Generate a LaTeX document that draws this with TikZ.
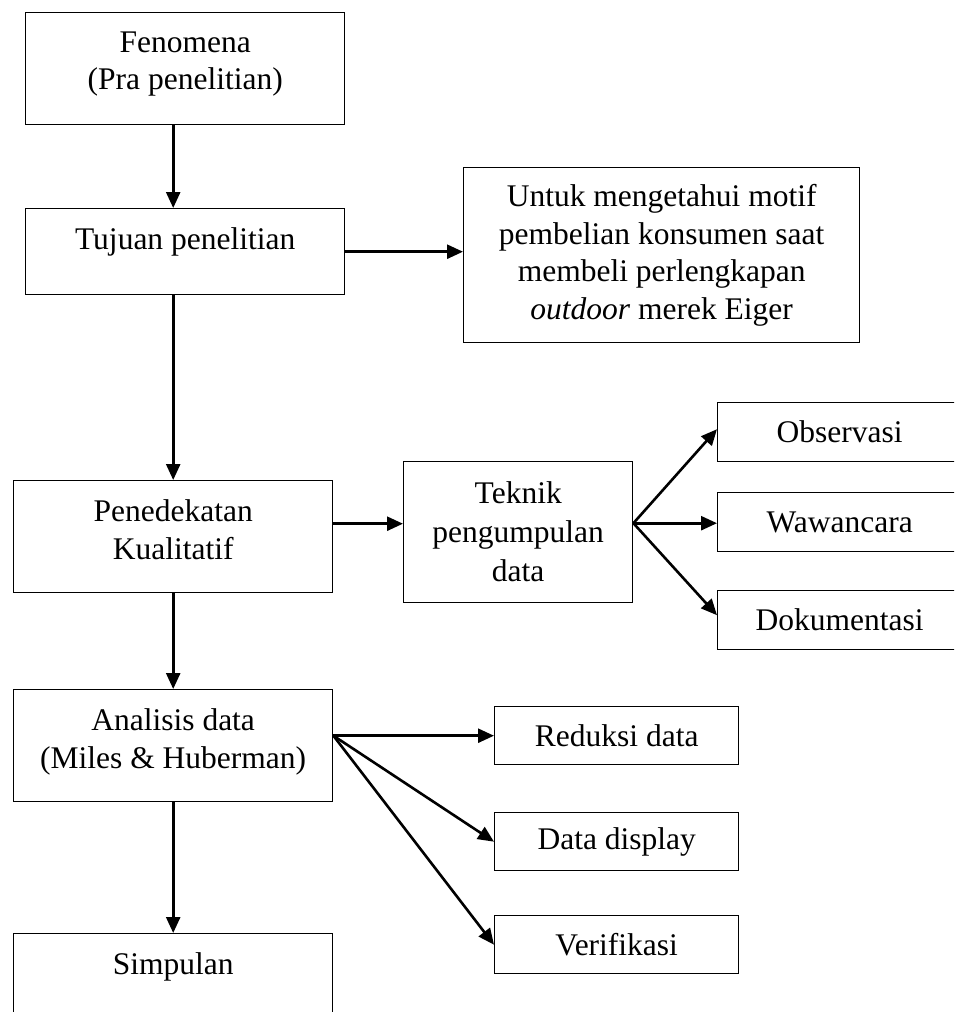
\documentclass[tikz,border=0pt]{standalone}
\usepackage{fontspec}
\setmainfont{Liberation Serif}
\usetikzlibrary{arrows.meta}
\begin{document}
\begin{tikzpicture}[x=1pt,y=-1pt,
  box/.style={draw, line width=1.4pt, inner sep=0pt, anchor=north west, align=center,
              font=\fontsize{31.5}{37.5}\selectfont},
  txt/.style={inner sep=0pt, anchor=north, align=center,
              font=\fontsize{31.5}{37.5}\selectfont},
  arr/.style={line width=2.6pt, -{Triangle[length=16pt,width=14pt]}},
]
\useasboundingbox (0,0) rectangle (954,1012);
\clip (0,0) rectangle (954,1012);
\fill[white] (0,0) rectangle (954,1012);

% main column
\node[box, minimum width=319pt, minimum height=112pt] (fen) at (25,12) {};
\node[txt] (fenT) at ([yshift=-19.5pt]fen.north) {Fenomena\\(Pra penelitian)};

\node[box, minimum width=319pt, minimum height=86pt] (tuj) at (25,208) {};
\node[txt] (tujT) at ([yshift=-19.5pt]tuj.north) {Tujuan penelitian};

\node[box, minimum width=396pt, minimum height=175pt] (unt) at (463,167)
  {Untuk mengetahui motif\\pembelian konsumen saat\\membeli perlengkapan\\\textit{outdoor} merek Eiger};

\node[box, minimum width=319pt, minimum height=112pt] (pen) at (13,480) {};
\node[txt] (penT) at ([yshift=-19.5pt]pen.north) {Penedekatan\\Kualitatif};

\node[box, minimum width=229pt, minimum height=141pt, font=\fontsize{31.5}{39}\selectfont] (tek) at (403,461)
  {Teknik\\pengumpulan\\data};

% data collection techniques (cut by the right page edge)
\node[box, minimum width=244pt, minimum height=59pt] (obs) at (717,402) {Observasi};
\node[box, minimum width=244pt, minimum height=59pt] (waw) at (717,492) {Wawancara};
\node[box, minimum width=244pt, minimum height=59pt] (dok) at (717,590) {Dokumentasi};

\node[box, minimum width=319pt, minimum height=112pt] (ana) at (13,689) {};
\node[txt] (anaT) at ([yshift=-19.5pt]ana.north) {Analisis data\\(Miles \& Huberman)};

% analysis steps
\node[box, minimum width=244pt, minimum height=58pt] (red) at (494,706) {Reduksi data};
\node[box, minimum width=244pt, minimum height=58pt] (dd) at (494,812) {Data display};
\node[box, minimum width=244pt, minimum height=58pt] (ver) at (494,915) {Verifikasi};

\node[box, minimum width=319pt, minimum height=90pt] (sim) at (13,933) {};
\node[txt] (simT) at ([yshift=-19.5pt]sim.north) {Simpulan};

% connectors
\draw[arr] (fen.south -| pen.north) -- (tuj.north -| pen.north);
\draw[arr] (tuj.east) -- (tuj.east -| unt.west);
\draw[arr] (tuj.south -| pen.north) -- (pen.north);
\draw[arr] ([yshift=13pt]pen.east) -- ([yshift=13pt]pen.east -| tek.west);

\coordinate (tekO) at ([yshift=9pt]tek.east);
\draw[arr] (tekO) -- ([yshift=3pt]obs.west);
\draw[arr] (tekO) -- (tekO -| waw.west);
\draw[arr] (tekO) -- ([yshift=5pt]dok.west);

\draw[arr] (pen.south) -- (ana.north);

\coordinate (anaO) at (ana.east |- red.west);
\draw[arr] (anaO) -- (red.west);
\draw[arr] (anaO) -- (dd.west);
\draw[arr] (anaO) -- (ver.west);

\draw[arr] (ana.south) -- (sim.north);
\end{tikzpicture}
\end{document}
